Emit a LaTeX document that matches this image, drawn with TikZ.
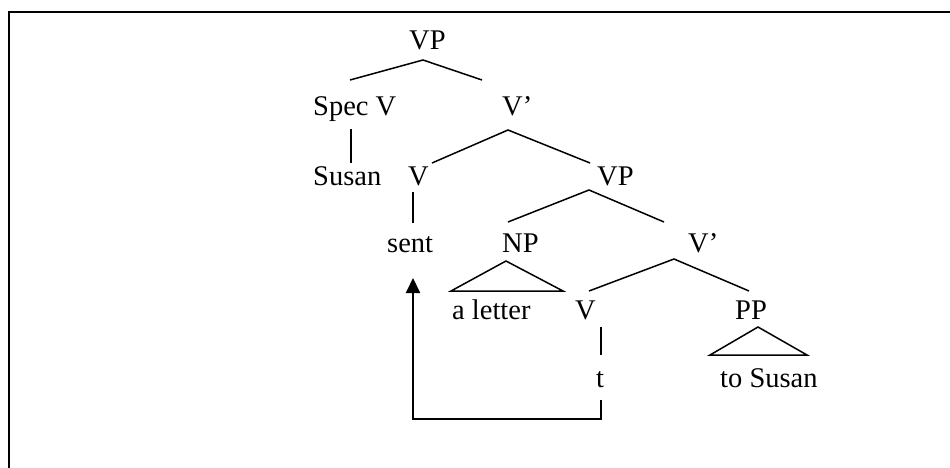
\documentclass[tikz,border=0pt]{standalone}
\usepackage{fontspec}
\setmainfont{Liberation Serif}
\usetikzlibrary{arrows.meta}

\begin{document}
\begin{tikzpicture}[x=1pt,y=-1pt,
  lbl/.style={anchor=base west,inner sep=0pt,font=\fontsize{28.5}{34}\selectfont},
  branch/.style={line width=1.5pt},
  move/.style={line width=2pt,-{Triangle[length=15pt,width=14pt]}}]
  \useasboundingbox (0,0) rectangle (950,468);
  \draw[line width=2pt] (950,12) -- (9,12) -- (9,468);
  % labels
  \node[lbl] (vp) at (409,50) {VP};
  \node[lbl] (specv) at (313,116) {Spec V};
  \node[lbl] (vbar) at (502,116) {V'};
  \node[lbl] (susan) at (313,185) {Susan};
  \node[lbl] (v) at (408,185) {V};
  \node[lbl] (vp2) at (597,185) {VP};
  \node[lbl] (sent) at (387,252) {sent};
  \node[lbl] (np) at (502,252) {NP};
  \node[lbl] (vbar2) at (688,252) {V'};
  \node[lbl] (letter) at (452,319) {a letter};
  \node[lbl] (v2) at (575,319) {V};
  \node[lbl] (pp) at (735,319) {PP};
  \node[lbl] (t) at (596,387) {t};
  \node[lbl] (tosusan) at (720,387) {to Susan};
  % branch points
  \coordinate (vp-a) at (423,60);   \coordinate (vp-l) at (350,80);   \coordinate (vp-r) at (482,80);
  \coordinate (specv-s) at (351,129); \coordinate (susan-n) at (351,163);
  \coordinate (vbar-a) at (508,130); \coordinate (vbar-l) at (432,163); \coordinate (vbar-r) at (590,163);
  \coordinate (v-s) at (413,192);   \coordinate (sent-n) at (413,223);
  \coordinate (vp2-a) at (589,190); \coordinate (vp2-l) at (508,222); \coordinate (vp2-r) at (664,222);
  \coordinate (np-a) at (506,261);  \coordinate (np-l) at (451,291);  \coordinate (np-r) at (563,291);
  \coordinate (vbar2-a) at (674,259); \coordinate (vbar2-l) at (589,291); \coordinate (vbar2-r) at (749,291);
  \coordinate (v2-s) at (601,327);  \coordinate (t-n) at (601,355);
  \coordinate (pp-a) at (758,327);  \coordinate (pp-l) at (710,355);  \coordinate (pp-r) at (807,355);
  % tree
  \draw[branch] (vp-l) -- (vp-a) -- (vp-r);
  \draw[branch] (specv-s) -- (susan-n);
  \draw[branch] (vbar-l) -- (vbar-a) -- (vbar-r);
  \draw[branch] (v-s) -- (sent-n);
  \draw[branch] (vp2-l) -- (vp2-a) -- (vp2-r);
  \draw[branch] (np-a) -- (np-l) -- (np-r) -- cycle;
  \draw[branch] (vbar2-l) -- (vbar2-a) -- (vbar2-r);
  \draw[branch] (v2-s) -- (t-n);
  \draw[branch] (pp-a) -- (pp-l) -- (pp-r) -- cycle;
  % movement
  \coordinate (t-s) at (601,400);
  \coordinate (low) at (413,419);
  \coordinate (sent-s) at (413,278);
  \draw[move] (t-s) |- (low) -- (sent-s);
\end{tikzpicture}
\end{document}
